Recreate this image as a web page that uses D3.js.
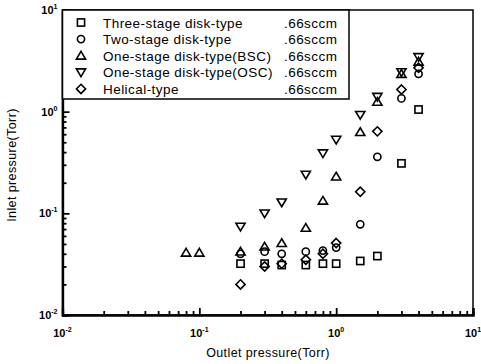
<!DOCTYPE html>
<html><head><meta charset="utf-8">
<script src="https://cdn.jsdelivr.net/npm/d3@7"></script>
<style>body{margin:0;background:#fff}svg{display:block}</style>
</head><body>
<script>
const seriesNames = ["Three-stage disk-type","Two-stage disk-type","One-stage disk-type(BSC)","One-stage disk-type(OSC)","Helical-type"];
const flowLabel = ".66sccm";
const symbols = ["square","circle","up","down","diamond"];
const threeStageX = [0.2,0.3,0.4,0.6,0.8,1.0,1.5,2.0,3.0,4.0];
const threeStageY = [0.032,0.032,0.031,0.031,0.032,0.032,0.034,0.038,0.31,1.05];
const twoStageX = [0.2,0.3,0.4,0.6,0.8,1.0,1.5,2.0,3.0,4.0];
const twoStageY = [0.040,0.042,0.040,0.042,0.043,0.046,0.078,0.36,1.35,2.35];
const bscX = [0.08,0.1,0.2,0.3,0.4,0.6,0.8,1.0,1.5,2.0,3.0,4.0];
const bscY = [0.041,0.041,0.042,0.047,0.051,0.072,0.133,0.23,0.63,1.25,2.35,3.1];
const oscX = [0.2,0.3,0.4,0.6,0.8,1.0,1.5,2.0,3.0,4.0];
const oscY = [0.074,0.1,0.128,0.24,0.39,0.53,0.93,1.4,2.45,3.45];
const helicalX = [0.2,0.3,0.4,0.6,0.8,1.0,1.5,2.0,3.0,4.0];
const helicalY = [0.020,0.030,0.032,0.035,0.040,0.051,0.163,0.64,1.65,2.7];
const tickExps = [-2,-1,0,1];
const xTitle = "Outlet pressure(Torr)";
const yTitle = "Inlet pressure(Torr)";

const W=481,H=364;
const L=62.5,R=473,T=10,B=315;
const svg=d3.select("body").append("svg").attr("width",W).attr("height",H);
const x=d3.scaleLog().domain([0.01,10]).range([L,R]);
const y=d3.scaleLog().domain([0.01,10]).range([B,T]);
const font="'Liberation Sans', Arial, sans-serif";

// frame
svg.append("rect").attr("x",L).attr("y",T).attr("width",R-L).attr("height",B-T)
  .attr("fill","none").attr("stroke","#000").attr("stroke-width",1.5);

// axes with inward ticks
const minorVals=[];
for(let e=-2;e<1;e++){for(let m=2;m<=9;m++)minorVals.push(m*Math.pow(10,e));}
const majorVals=tickExps.map(e=>Math.pow(10,e));
const gx=svg.append("g").attr("transform",`translate(0,${B})`);
gx.call(d3.axisTop(x).tickValues(minorVals).tickSize(4).tickFormat(""));
gx.call(g=>g.append("g").call(d3.axisTop(x).tickValues(majorVals).tickSize(7).tickFormat("")));
const gy=svg.append("g").attr("transform",`translate(${L},0)`);
gy.call(d3.axisRight(y).tickValues(minorVals).tickSize(4).tickFormat(""));
gy.call(g=>g.append("g").call(d3.axisRight(y).tickValues(majorVals).tickSize(7).tickFormat("")));
svg.selectAll(".domain").attr("stroke","#000").attr("stroke-width",2.2);
svg.selectAll(".tick line").attr("stroke","#000").attr("stroke-width",1.8);

// tick labels
tickExps.forEach(e=>{
  const t=svg.append("text").attr("x",x(Math.pow(10,e))).attr("y",B+22).attr("text-anchor","middle")
    .attr("font-family",font).attr("font-size",11).attr("font-weight","bold");
  t.append("tspan").text("10");
  t.append("tspan").attr("dy",-5).attr("font-size",7).text(String(e));
  const t2=svg.append("text").attr("x",L-5).attr("y",y(Math.pow(10,e))+4).attr("text-anchor","end")
    .attr("font-family",font).attr("font-size",11).attr("font-weight","bold");
  t2.append("tspan").text("10");
  t2.append("tspan").attr("dy",-5).attr("font-size",7).text(String(e));
});

// titles
svg.append("text").attr("x",268).attr("y",357).attr("text-anchor","middle")
  .attr("font-family",font).attr("font-size",12.5).attr("letter-spacing",0.4).text(xTitle);
svg.append("text").attr("transform","translate(16,165) rotate(-90)").attr("text-anchor","middle")
  .attr("font-family",font).attr("font-size",12.5).attr("letter-spacing",0.4).text(yTitle);

// symbols
function sym(g,type,cx,cy){
  const s=3.6;
  let el;
  if(type==="square") el=g.append("rect").attr("x",cx-s).attr("y",cy-s).attr("width",2*s).attr("height",2*s);
  else if(type==="circle") el=g.append("circle").attr("cx",cx).attr("cy",cy).attr("r",3.6);
  else if(type==="up") el=g.append("path").attr("d",`M${cx},${cy-4.3}L${cx+4.6},${cy+3.4}L${cx-4.6},${cy+3.4}Z`);
  else if(type==="down") el=g.append("path").attr("d",`M${cx},${cy+4.3}L${cx+4.6},${cy-3.4}L${cx-4.6},${cy-3.4}Z`);
  else el=g.append("path").attr("d",`M${cx},${cy-4.6}L${cx+4.6},${cy}L${cx},${cy+4.6}L${cx-4.6},${cy}Z`);
  el.attr("fill","none").attr("stroke","#000").attr("stroke-width",1.6);
}
const allX=[threeStageX,twoStageX,bscX,oscX,helicalX];
const allY=[threeStageY,twoStageY,bscY,oscY,helicalY];
const plot=svg.append("g");
allX.forEach((xs,i)=>xs.forEach((v,j)=>sym(plot,symbols[i],x(v),y(allY[i][j]))));

// legend
const lg=svg.append("g");
lg.append("rect").attr("x",L).attr("y",T).attr("width",349-L).attr("height",99-T)
  .attr("fill","#fff").attr("stroke","#000").attr("stroke-width",1.5);
seriesNames.forEach((n,i)=>{
  const ry=22.5+i*16.6;
  sym(lg,symbols[i],81,ry);
  lg.append("text").attr("x",103).attr("y",ry+5).attr("font-family",font).attr("font-size",13.5)
    .attr("letter-spacing",0.45).text(n);
  lg.append("text").attr("x",284).attr("y",ry+5).attr("font-family",font).attr("font-size",13.5)
    .attr("letter-spacing",0.45).text(flowLabel);
});
</script>
</body></html>
